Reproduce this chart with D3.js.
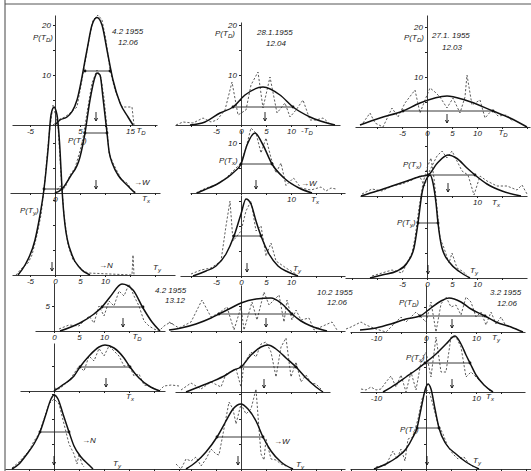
<!DOCTYPE html>
<html>
<head>
<meta charset="utf-8">
<script src="https://cdn.jsdelivr.net/npm/d3@7"></script>
<style>
  body { margin: 0; background: #fff; }
  text { font-family: "Liberation Sans", sans-serif; font-style: italic; font-size: 8px; fill: #1a1a1a; }
</style>
</head>
<body>
<div id="chart"></div>
<script>
"use strict";

// ---- data (T in units, P in %) ----
// one entry per observation: 4.2/12.06, 28.1/12.04, 27.1/12.03, 4.2/13.12, 10.2/12.06, 3.2/12.06
const dates = ["4.2 1955", "28.1.1955", "27.1. 1955", "4.2 1955", "10.2 1955", "3.2 1955"];
const times = ["12.06", "12.04", "12.03", "13.12", "12.06", "12.06"];

const fitTD = [
  [[0,0],[1,1],[2.4,1.6],[4.4,5],[6.4,15],[7.4,20],[8.4,21.5],[9.4,20],[10.4,15],[11.6,9],[13,4.4],[14.6,1.6],[15.6,0]],
  [[-10.2,0],[-7.2,0.6],[-4.2,2.4],[-1.6,3.6],[0.8,6],[4.4,7.6],[7.8,6],[10.4,3.6],[13.8,1.6],[18.8,0]],
  [[-13.4,0.4],[-9.4,1.8],[-4.8,3.2],[-1.4,4.8],[4,6.2],[7.6,5.4],[13.2,3.2],[16.6,1.8],[20,0]],
  [[1.2,0],[5.2,1.6],[8,3.4],[9.6,4.8],[11.2,6.8],[13.6,9.4],[15.8,8.2],[17.8,4.6],[19.6,1.8],[21.2,0]],
  [[-14.4,0.2],[-12,0.6],[-9,1.4],[-6,2.6],[-4.4,3.4],[-2,4.6],[0,5.6],[3,6.4],[6,6.6],[8,5.6],[10.2,3.4],[12,2],[14,1],[17.2,0]],
  [[-13.2,0.4],[-10,0.8],[-7,1.6],[-4,2.6],[-1.2,3.2],[1,4.8],[3,6.2],[4.6,6.8],[7,6],[9,4.6],[11.8,3.2],[14,2],[17,1],[19.4,0]]
];
const obsTD = [
  [[-0.4,0],[1,1.2],[2,1.6],[3,2.4],[4.4,3.6],[5.4,9],[6.6,16],[7.6,21],[8.6,22],[9.4,21],[10.2,17],[11,11],[12,7],[13.4,3.6],[15.4,3.6],[15.8,0]],
  [[-13,0],[-11.6,0.6],[-9.6,0.4],[-7.6,1.4],[-6,0.6],[-4.8,1],[-3.2,3],[-1.8,8.6],[-0.6,2],[1,3],[2,8],[3.4,10.6],[4.4,3.4],[5.8,9.6],[7.2,2.4],[8.8,4.4],[9.8,1.6],[11,3],[12.4,5],[13.8,1],[15,1],[16.4,1.4],[17.5,0.5]],
  [[-12.8,0.8],[-11.4,2.8],[-10.4,0.8],[-8.8,0],[-7,3.8],[-5.8,2],[-4.4,4.8],[-2.4,7.4],[-1.4,2.8],[-0.4,5.4],[0.6,7.8],[1.6,7],[2.6,6],[4,3.8],[5.2,5.8],[6.6,2.8],[7.6,6],[8,10.4],[9,4.4],[10.6,5.4],[11.6,1.8],[13,3.4],[14.2,2.2],[16,2.4],[17.2,1]],
  [[1,0.4],[3,1.2],[5,1],[7,3],[8,1.6],[9,5],[10,3],[11,6],[12,5],[13,8],[14,7],[15,9.4],[16,7],[17,5],[18,2],[19,1],[20,0.4],[21,0],[22,1],[23,1.6],[24,1.4]],
  [[-14.4,1.8],[-12.4,0.6],[-10,1.8],[-7.8,6.2],[-6,2.8],[-4.4,3.6],[-2.8,4.8],[-1.4,0.2],[0,4.8],[0.6,0.2],[2.2,5.8],[3.2,2.2],[4.6,7.8],[5.6,5.2],[7.6,7.2],[8.6,1.8],[9.2,6.2],[10.2,2.2],[11,4.2],[12,2.2],[13.6,2.6],[14.6,0.2],[16.4,1],[18.2,1.8],[19.2,0.2]],
  [[-16,0.6],[-15,1],[-13,2],[-12,1.4],[-11,1],[-10,0.6],[-8,0],[-7,1],[-5,3],[-4,2],[-2,4],[-1,3],[0,2],[1,6],[2,0],[3,5.6],[4,7],[5,5],[6,5.4],[7,3.4],[8,7],[9,6],[10,3],[11,4],[12,1.4],[13,4],[14,1.6],[15,3],[16,1.2]]
];

const fitTx = [
  [[0,0],[1.4,0.8],[3,3.2],[5,7.2],[6,12],[7,18.6],[8,23.2],[8.4,24],[9,23.6],[9.6,19],[10.4,12],[10.8,8.4],[11.6,5.6],[12.6,3.6],[14.4,1.6],[16,0]],
  [[-8.8,0],[-7.4,0.6],[-4.4,2],[-1.4,4.2],[0,5.8],[1.2,9.6],[2.8,12],[4.2,10],[6.2,5.8],[8.6,3],[11.6,1],[14.2,0]],
  [[-13.2,0],[-10,1],[-7,2],[-4,3],[-1,4],[0.2,4.2],[2,6.5],[4.2,8.2],[6,7.5],[8,5.6],[9.6,4.2],[12,2.4],[15,1],[18.8,0]],
  [[0,0],[2,1.4],[4,3],[5.2,4.8],[7,7],[9,8.8],[10.2,9.2],[12,8.6],[14,6.6],[15.2,4.8],[17,2.6],[19,1],[21.2,0]],
  [[-11,0],[-9,0.8],[-6,2],[-3,3.4],[-1.4,4.4],[0,5],[2,7.4],[4,9],[5.4,9.4],[7,8.6],[9,6.8],[11,5],[13,2.8],[15,1],[16.4,0]],
  [[-8.6,0],[-6,1.6],[-4,3],[-2,4.4],[-0.2,5.8],[2,7.6],[4,9.6],[5.8,11.2],[7,9.6],[8,7.4],[8.8,5.8],[10,3.4],[11.6,1.4],[13.4,0]]
];
const obsTx = [
  [[0,0],[1,1.4],[2,1],[3,3.6],[4,5],[5,8.4],[5.6,11],[6.4,16],[7.4,22],[8.4,24.6],[9.2,23],[9.8,19],[10.4,13],[10.8,8],[11.6,6],[12.6,4],[13.4,2.6],[14.4,2],[15.4,0.6],[16.4,0]],
  [[-9,0],[-7,1],[-5,1.6],[-3,3],[-1,5],[0,6],[1,9],[2,13],[3,12],[4,8],[5,11],[6,7],[7,4],[8,6],[9,1.5],[10.5,3],[12,1],[14,0.6],[16,1.2],[17,0.4],[18,1],[19,0.8]],
  [[-13,0.4],[-11,1.4],[-9,1],[-7,2],[-5,2.4],[-3,3.2],[-1.5,4],[-0.5,2],[0.5,5],[2,8],[3,9],[4,7.6],[5,9],[6,7],[7,5],[8.2,4.2],[9.4,0.2],[10.6,4],[12,3],[14,2],[16,2],[18,1.2],[19,2.2],[20,0.4]],
  [[0,0.6],[1,0.4],[3,2],[5,5],[6,4],[7,7],[8,6],[9,8.5],[10,7],[11,9],[12,8],[13,7],[14,5],[15,5.2],[16,3],[17,3.4],[18,1.2],[19,1],[21,0],[22,1],[23.5,1.2],[25,1]],
  [[-12,0.4],[-10,1.8],[-8,0.6],[-6,2],[-4,1],[-3,3.6],[-1,4.6],[0,1],[0.6,5.6],[2,8],[3,7],[4,9.6],[5,10],[6,8],[7,3],[8,9],[9,10.8],[10,3],[11,6],[12,2],[13,3.4],[14,1.8],[15,1.6],[16,0.6]],
  [[-13,0.6],[-12,0.4],[-11,1],[-10,0.4],[-9,0.6],[-8,2],[-7,3.2],[-6,1],[-5,3.4],[-4,0],[-3,4],[-2,0.4],[-1,6],[0,8],[1,3],[2,11],[3,4],[4,4],[5,11],[6,11],[7,9],[8,3],[9,4],[10,3],[11,2],[12,1],[13,0]]
];

const fitTy = [
  [[-7.4,0],[-6,2],[-4,7],[-3,12],[-2.2,17.2],[-1.4,25],[-0.8,32],[-0.2,33.6],[0.4,32],[1,25],[1.4,17.2],[2,10],[3.4,4],[5,1.4],[7,0]],
  [[-9.6,0],[-7,1],[-5,2],[-3,4.4],[-1.4,8],[0,12.4],[1,15.4],[2,14.4],[3,11],[4,8],[5.6,4.4],[7.4,2],[9.4,0.8],[11.4,0]],
  [[-11.4,0],[-9,0.6],[-6,1.4],[-4,3],[-2.6,6],[-1.8,11],[-1,17],[0,20],[0.6,20.6],[1.2,19],[1.8,15],[2.2,11],[3,6],[4.6,3],[6.6,1.2],[8.6,0]],
  [[-8.4,0],[-7,1],[-5.4,3],[-4,5],[-2.8,7.4],[-1.6,11],[-0.6,14],[0,14.8],[0.8,14],[1.8,11],[3,7.4],[4,4.6],[5.4,2.4],[7,0.8],[7.8,0]],
  [[-11,0],[-9,1.4],[-7,3.4],[-4.8,6.4],[-3,9.6],[-1.6,12],[0,13],[1.4,12],[3,9.6],[4.4,6.4],[6,3.6],[8,1.4],[10.4,0]],
  [[-10.4,0],[-8,1],[-6,2.2],[-4,4],[-2.6,6.4],[-1.8,8.2],[-1,12],[0,16.4],[0.4,17],[1,16],[1.8,12],[2.6,8.2],[4,5],[6,3],[8,1.4],[10.6,0]]
];
const obsTy = [
  [[-7.8,0],[-6.6,1.4],[-5.4,2.4],[-4.6,4],[-3.6,8],[-2.8,12],[-2,19],[-1.2,28],[-0.4,34],[0.6,30],[1.2,20],[1.8,12],[2.6,6],[3.6,3],[4.6,2],[5.4,1],[6.6,0.4],[15.4,0],[15.6,4],[15.8,0]],
  [[-10,0.4],[-8,1.2],[-6,1.6],[-4,3],[-3,10],[-2.2,15],[-1.6,7],[0,9],[1,13],[2,15],[3,9],[4,10],[5,4],[6,6.6],[7,3],[9,1.6],[11,0.4]],
  [[-11,0.4],[-9,1],[-7,1.6],[-5,1],[-4,3],[-3,5],[-2.4,8],[-1.6,14],[-0.8,19],[0,22],[0.8,24],[1.4,20],[2,14],[2.6,8],[3.4,6],[4.4,3],[5,5],[6,2],[7,1.4],[8,0.6]],
  [[-8.4,0.2],[-7,1.4],[-5,3.6],[-4,5.6],[-3,7],[-2,10],[-1,13],[0,14],[1,13],[2,9],[3,5],[4,3],[4.6,1],[5,3],[5.6,1],[6,0.4]],
  [[-13,1],[-12,0],[-11,2],[-10,1.6],[-9,2.4],[-8,0.6],[-7,2],[-6,4],[-5,3],[-4.4,2.8],[-3.6,7],[-2.4,13.4],[-1.6,12],[-1,9],[0,13],[1,11],[2,12],[3,16],[3.6,8],[4,3],[4.6,1.8],[5,6],[6,2],[7,1.8],[8,1],[9,0.6]],
  [[-10,0.4],[-8,0.8],[-6.6,3.6],[-5.8,2],[-5,4],[-4.2,1.6],[-3.6,6],[-2.6,6.4],[-1.6,10],[-0.8,14],[0,16],[0.8,15],[1.6,12],[2.4,9],[3.4,7],[4.4,4.4],[5.4,3],[6.4,2],[7.6,2.4],[8.6,1],[9.6,0.4]]
];

// half-width bars: [T left, T right, P]
const hwTD = [[6,11,10.8],[-1.6,10.4,3.6],[-4.8,13.2,3.2],[9.6,17.8,4.8],[-4.4,10.2,3.4],[-1.2,11.8,3.2]];
const hwTx = [[6,10.4,12],[0,6.2,5.8],[0.2,9.6,4.2],[5.2,15.2,4.8],[0,11,5],[-0.2,8.8,5.8]];
const hwTy = [[-2.2,1.4,17.2],[-1.4,4,8],[-1.8,2.2,11],[-2.8,3,7.4],[-4.8,4.4,6.4],[-1.8,2.6,8.2]];

// mean markers (arrows)
const meanTD = [8.2, 4.8, 4, 13.8, 5, 5.2];
const meanTx = [8.2, 3, 4.2, 10.4, 4.6, 5.2];
const meanTy = [-0.6, 1.2, 0.2, 0, -0.6, 0.2];

// tick labels
const tdLabels = [[-5,5,15],[-5,0,5,10],[-5,0,5,10],[0,5,10],[],[-10,0,10]];
const txLabels = [[0],[10],[10],[],[],[-10,10]];
const tyLabels = [[-5,0,5,10],[-5,0,5,10],[-5,0,5,10],[],[],[]];
const pTicksTD = [[10,20],[10,20],[10,20],[5],[],[]];
const pTicksTx = [[],[10],[],[],[],[]];
const pTicksTy = [[],[],[],[],[],[]];

const tdNames = ["T|D", "-T|D", "T|D", "T|D", null, "T|y"];
const txNames = ["T|x", "T|x", "T|x", "T|x", null, "T|x"];
const tyNames = ["T|y", "T|y", "T|y", "T|y", "T|y", "T|y"];

// ---- layout (pixels) ----
const KX = 5, KY = 5;
// per panel: [baseline y, axis top y, baseline left x, baseline right x]
const layout = [
  {x0: 55,  td: [125, 15, 12, 157],  tx: [193, 125, 10, 160], ty: [275, 193, 12, 175]},
  {x0: 241, td: [125, 22, 175, 340], tx: [193, 130, 190, 345], ty: [276, 195, 180, 345]},
  {x0: 427, td: [127, 15, 355, 530], tx: [196, 130, 360, 527], ty: [278, 196, 345, 527]},
  {x0: 54,  td: [331, 283, 35, 165], tx: [391, 343, 20, 165], ty: [469, 393, 5, 180]},
  {x0: 241, td: [331, 285, 170, 345], tx: [392, 340, 175, 330], ty: [469, 393, 170, 345]},
  {x0: 426, td: [332, 285, 350, 525], tx: [392, 335, 360, 525], ty: [469, 395, 350, 531]}
];
const datePos = [[112, 34], [257, 35], [432, 38], [155, 293], [317, 295], [490, 295]];
const timePos = [[118, 45], [266, 46], [442, 50], [165, 303], [327, 305], [497, 306]];
const namePos = {
  td: [[17.2, 8], [13.2, 8], [15.2, 8], [16.6, 8], null, [14, 8]],
  tx: [[18.2, 8], [14.8, 9], [13.8, 9], [15.2, 8], null, [12.8, 7]],
  ty: [[20.4, -5], [11.2, -5], [9.4, -5], [12.6, -3], [11.8, -2], [10.2, -6]]
};
const pLabPos = {
  td: [[33, 40, "D"], [215, 36, "D"], [404, 40, "D"], null, null, [399, 305, "D"]],
  tx: [[68, 143, "x"], [219, 163, "x"], [403, 167, "x"], null, null, [406, 360, "x"]],
  ty: [[20, 213, "y"], null, [397, 225, "y"], null, null, [400, 432, "y"]]
};
const dirLabels = [
  {g: 0, text: "\u2192W", x: 134, y: 185},
  {g: 0, text: "\u2192N", x: 99, y: 268},
  {g: 1, text: "\u2192W", x: 301, y: 186},
  {g: 3, text: "\u2192N", x: 82, y: 443},
  {g: 4, text: "\u2192W", x: 274, y: 444}
];

const svg = d3.select("#chart").append("svg")
  .attr("width", 531).attr("height", 471);
svg.append("rect").attr("width", 531).attr("height", 471).attr("fill", "#fff");

// Frame of the scanned plate
svg.append("line").attr("x1", 5).attr("y1", 0).attr("x2", 5).attr("y2", 471)
  .attr("stroke", "#444").attr("stroke-width", 1);
svg.append("line").attr("x1", 5).attr("y1", 4).attr("x2", 531).attr("y2", 4)
  .attr("stroke", "#555").attr("stroke-width", 1);

// text with a subscript: "main|sub|after"
function subText(sel, x, y, str, anchor) {
  const parts = str.split("|");
  const t = sel.append("text").attr("x", x).attr("y", y)
    .attr("text-anchor", anchor || "start");
  t.append("tspan").text(parts[0]);
  if (parts.length > 1) {
    t.append("tspan").attr("dy", 2).attr("font-size", "6px").text(parts[1]);
    if (parts[2]) t.append("tspan").attr("dy", -2).text(parts[2]);
  }
  return t;
}

const fitLine = (x, y) => d3.line().x(d => x(d[0])).y(d => y(d[1])).curve(d3.curveMonotoneX);
const obsLine = (x, y) => d3.line().x(d => x(d[0])).y(d => y(d[1]));

const kinds = [
  {key: "td", fit: fitTD, obs: obsTD, hw: hwTD, mean: meanTD, xl: tdLabels, yl: pTicksTD, names: tdNames},
  {key: "tx", fit: fitTx, obs: obsTx, hw: hwTx, mean: meanTx, xl: txLabels, yl: pTicksTx, names: txNames},
  {key: "ty", fit: fitTy, obs: obsTy, hw: hwTy, mean: meanTy, xl: tyLabels, yl: pTicksTy, names: tyNames}
];

function drawPanel(i, k) {
  const L = layout[i], P = L[k.key];
  const base = P[0], top = P[1], left = P[2], right = P[3];
  const x = d3.scaleLinear().domain([(left - L.x0) / KX, (right - L.x0) / KX]).range([left, right]);
  const y = d3.scaleLinear().domain([0, (base - top) / KY]).range([base, top]);
  const g = svg.append("g");

  // T axis
  const xl = k.xl[i];
  const dom = x.domain();
  const tVals = Array.from(new Set(d3.range(Math.ceil(dom[0] / 5) * 5, dom[1], 5).concat(xl)));
  const ax = g.append("g").attr("transform", `translate(0,${base})`)
    .call(d3.axisBottom(x).tickValues(tVals).tickSizeInner(2).tickSizeOuter(0).tickPadding(1)
      .tickFormat(d => xl.includes(d) ? String(d) : ""));
  ax.attr("font-size", null).attr("font-family", null);
  ax.select(".domain").attr("stroke", "#222").attr("stroke-width", 0.9);
  ax.selectAll(".tick line").attr("stroke", "#222");
  ax.selectAll(".tick text").attr("fill", "#1a1a1a");

  // P axis
  const yl = k.yl[i];
  const pVals = d3.range(5, y.domain()[1], 5);
  const ay = g.append("g").attr("transform", `translate(${x(0)},0)`)
    .call(d3.axisLeft(y).tickValues(pVals).tickSizeInner(2).tickSizeOuter(0).tickPadding(2)
      .tickFormat(d => yl.includes(d) ? String(d) : ""));
  ay.attr("font-size", null).attr("font-family", null);
  ay.select(".domain").attr("stroke", "#222").attr("stroke-width", 0.9);
  ay.selectAll(".tick line").attr("stroke", "#222");
  ay.selectAll(".tick text").attr("fill", "#1a1a1a");

  // observed (dashed) curve
  g.append("path").attr("d", obsLine(x, y)(k.obs[i]))
    .attr("fill", "none").attr("stroke", "#333").attr("stroke-width", 0.8)
    .attr("stroke-dasharray", "2.2,1.8");

  // fitted curve
  g.append("path").attr("d", fitLine(x, y)(k.fit[i]))
    .attr("fill", "none").attr("stroke", "#111").attr("stroke-width", 1.5);

  // half-width bar
  const hw = k.hw[i];
  g.append("line").attr("x1", x(hw[0])).attr("x2", x(hw[1]))
    .attr("y1", y(hw[2])).attr("y2", y(hw[2]))
    .attr("stroke", "#222").attr("stroke-width", 0.9);
  g.selectAll("circle.hw").data([hw[0], hw[1]]).join("circle")
    .attr("class", "hw").attr("cx", d => x(d)).attr("cy", y(hw[2]))
    .attr("r", 1.4).attr("fill", "#111");

  // mean arrow
  const mx = x(k.mean[i]), y1 = y(2.6), y2 = y(0.8);
  g.append("path")
    .attr("d", `M${mx},${y1}V${y2}M${mx - 1.6},${y2 - 3}L${mx},${y2}L${mx + 1.6},${y2 - 3}`)
    .attr("fill", "none").attr("stroke", "#111").attr("stroke-width", 0.9);

  // axis name
  const nm = k.names[i], np = namePos[k.key][i];
  if (nm && np) subText(g, x(np[0]), base + np[1], nm, "middle");

  // P(T) label
  const pl = pLabPos[k.key][i];
  if (pl) subText(g, pl[0], pl[1], "P(T|" + pl[2] + "|)");
}

d3.range(6).forEach(i => kinds.forEach(k => drawPanel(i, k)));

// dates and times
svg.selectAll("text.date").data(dates).join("text").attr("class", "date")
  .attr("x", (d, i) => datePos[i][0]).attr("y", (d, i) => datePos[i][1]).text(d => d);
svg.selectAll("text.time").data(times).join("text").attr("class", "time")
  .attr("x", (d, i) => timePos[i][0]).attr("y", (d, i) => timePos[i][1]).text(d => d);

// wind direction marks
svg.selectAll("text.dir").data(dirLabels).join("text").attr("class", "dir")
  .attr("x", d => d.x).attr("y", d => d.y).text(d => d.text);
</script>
</body>
</html>
